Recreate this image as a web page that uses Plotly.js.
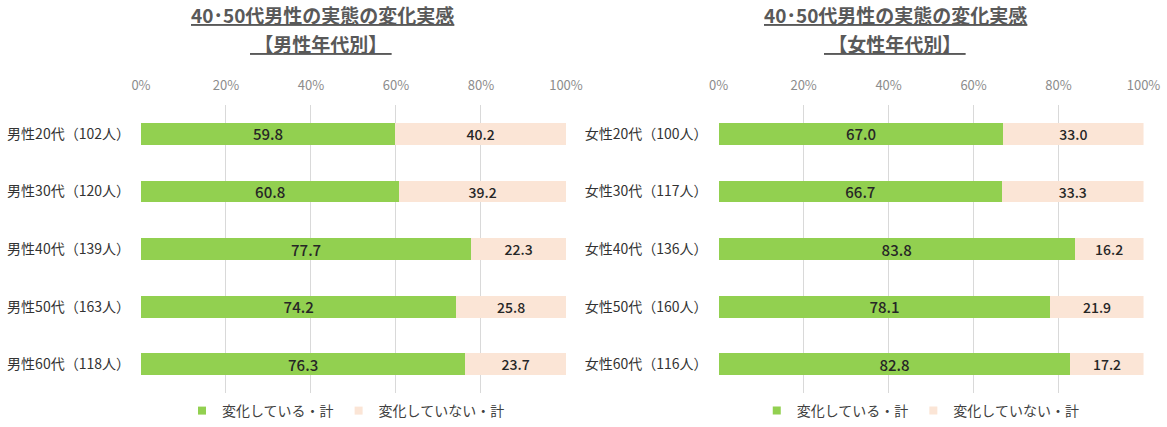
<!DOCTYPE html>
<html>
<head>
<meta charset="utf-8">
<script src="https://cdn.plot.ly/plotly-3.0.1.min.js"></script>
<style>
  body { margin: 0; background: #fff; }
  #chart { width: 1167px; height: 427px; }
</style>
</head>
<body>
<div id="chart"></div>
<script>
const maleGroups = ['男性20代（102人）', '男性30代（120人）', '男性40代（139人）', '男性50代（163人）', '男性60代（118人）'];
const maleChanged = [59.8, 60.8, 77.7, 74.2, 76.3];
const maleUnchanged = [40.2, 39.2, 22.3, 25.8, 23.7];

const femaleGroups = ['女性20代（100人）', '女性30代（117人）', '女性40代（136人）', '女性50代（160人）', '女性60代（116人）'];
const femaleChanged = [67.0, 66.7, 83.8, 78.1, 82.8];
const femaleUnchanged = [33.0, 33.3, 16.2, 21.9, 17.2];

const seriesNames = ['変化している・計', '変化していない・計'];
const tickVals = [0, 20, 40, 60, 80, 100];
const tickText = ['0%', '20%', '40%', '60%', '80%', '100%'];

const GREEN = '#92d050';
const BEIGE = '#fbe5d6';
const FONT = '"Noto Sans CJK JP", "Noto Sans", sans-serif';

function bar(x, y, color, axis, size) {
  return {
    type: 'bar',
    orientation: 'h',
    x: x,
    y: y,
    marker: { color: color },
    texttemplate: '%{x:.1f}',
    textposition: 'inside',
    insidetextanchor: 'middle',
    constraintext: 'none',
    textfont: { color: '#262626', size: size, family: FONT, weight: 500 },
    xaxis: 'x' + axis,
    yaxis: 'y' + axis,
    showlegend: false,
    hoverinfo: 'skip'
  };
}

// legend-only entries so the swatch can be a small square
function key(name, color, axis, legend) {
  return {
    type: 'scatter',
    mode: 'markers',
    x: [null],
    y: [null],
    name: name,
    marker: { color: color, symbol: 'square', size: 8 },
    xaxis: 'x' + axis,
    yaxis: 'y' + axis,
    legend: legend,
    hoverinfo: 'skip'
  };
}

const traces = [
  bar(maleChanged, maleGroups, GREEN, '', 15),
  bar(maleUnchanged, maleGroups, BEIGE, '', 14),
  bar(femaleChanged, femaleGroups, GREEN, '2', 15),
  bar(femaleUnchanged, femaleGroups, BEIGE, '2', 14),
  key(seriesNames[0], GREEN, '', 'legend'),
  key(seriesNames[1], BEIGE, '', 'legend'),
  key(seriesNames[0], GREEN, '2', 'legend2'),
  key(seriesNames[1], BEIGE, '2', 'legend2')
];

function xax(domain, anchor) {
  return {
    domain: domain,
    anchor: anchor,
    range: [0, 100],
    side: 'top',
    tickvals: tickVals,
    ticktext: tickText,
    showgrid: true,
    gridcolor: '#d9d9d9',
    gridwidth: 1,
    zeroline: false,
    showline: false,
    ticklabelstandoff: 12,
    tickfont: { size: 13, color: '#8c8c8c', family: FONT },
    fixedrange: true
  };
}

function yax(anchor, cats) {
  return {
    domain: [0.073, 0.752],
    anchor: anchor,
    type: 'category',
    categoryorder: 'array',
    categoryarray: cats,
    autorange: 'reversed',
    showgrid: false,
    showline: false,
    ticks: '',
    ticklabelstandoff: 10,
    tickfont: { size: 14, color: '#333333', family: FONT },
    fixedrange: true
  };
}

const legendBase = {
  orientation: 'h',
  xanchor: 'center',
  yanchor: 'middle',
  y: 0.03,
  font: { size: 14, color: '#404040', family: FONT },
  itemwidth: 30,
  traceorder: 'normal'
};

const titleFont = { size: 19, color: '#595959', family: FONT, weight: 'bold' };

function title(text, x, y) {
  return { text: text, x: x, y: y, xref: 'paper', yref: 'paper', xanchor: 'center', yanchor: 'middle',
    showarrow: false, font: titleFont };
}

const layout = {
  width: 1167,
  height: 427,
  margin: { l: 0, r: 0, t: 0, b: 0 },
  paper_bgcolor: '#ffffff',
  plot_bgcolor: '#ffffff',
  font: { family: FONT },
  barmode: 'stack',
  bargap: 0.62,
  xaxis: xax([0.1208, 0.485], 'y'),
  yaxis: yax('x', maleGroups),
  xaxis2: xax([0.6158, 0.9799], 'y2'),
  yaxis2: yax('x2', femaleGroups),
  legend: Object.assign({}, legendBase, { x: 0.2965 }),
  legend2: Object.assign({}, legendBase, { x: 0.789 }),
  annotations: [
    title('<u>40･50代男性の実態の変化実感</u>', 0.276, 0.966),
    title('<u> 【男性年代別】 </u>', 0.275, 0.897),
    title('<u>40･50代男性の実態の変化実感</u>', 0.767, 0.966),
    title('<u> 【女性年代別】 </u>', 0.767, 0.897)
  ]
};

Plotly.newPlot('chart', traces, layout, { displayModeBar: false, staticPlot: true });
</script>
</body>
</html>
